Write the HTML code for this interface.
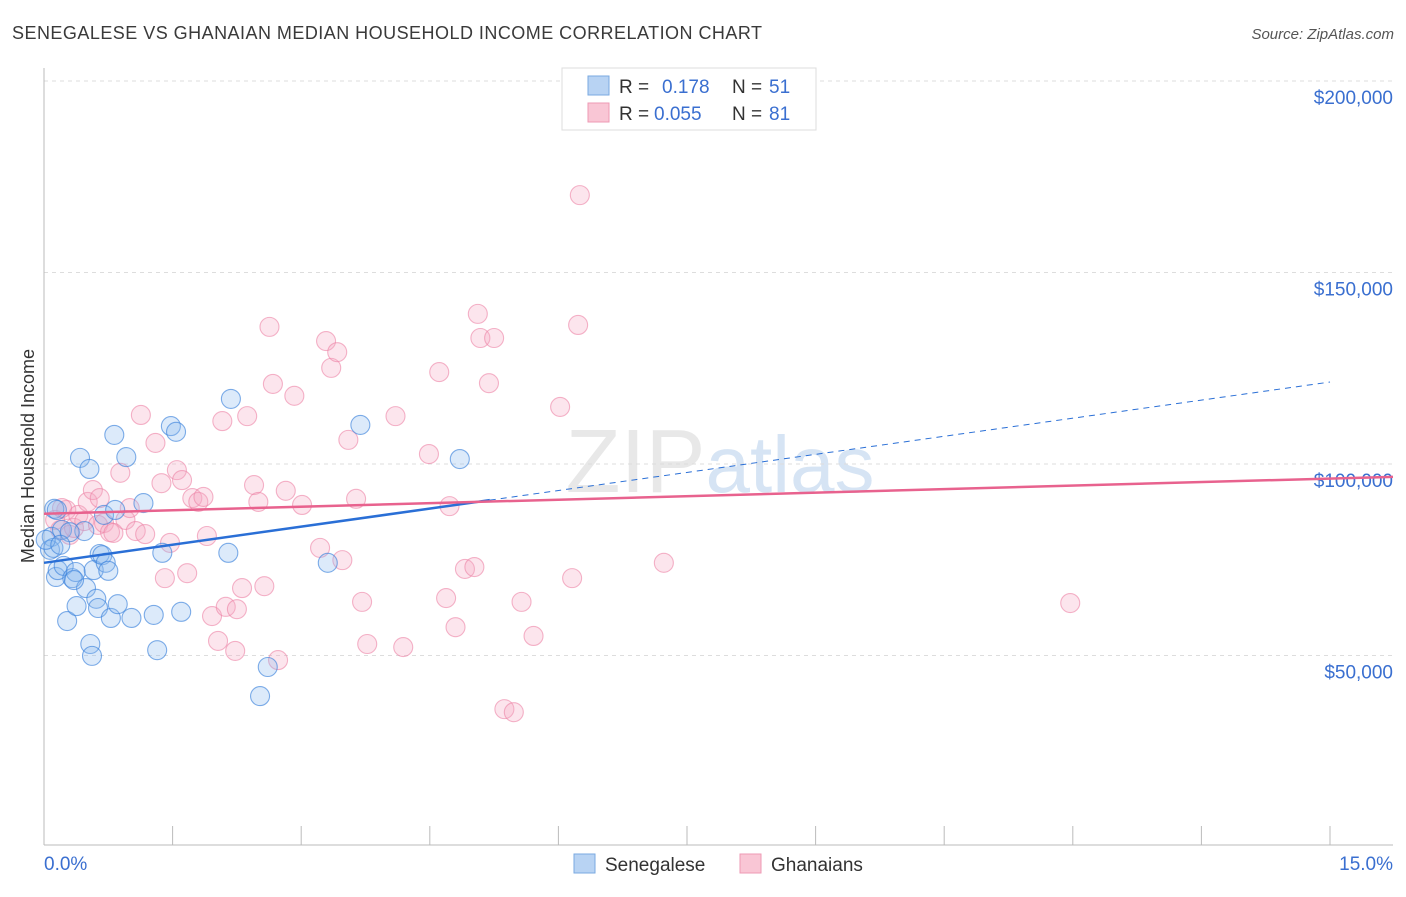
<!DOCTYPE html>
<html><head><meta charset="utf-8"><style>
body{margin:0;background:#fff;font-family:"Liberation Sans",sans-serif;}
svg text{font-family:"Liberation Sans",sans-serif;}
</style></head><body>
<svg id="chart" width="1406" height="892" xmlns="http://www.w3.org/2000/svg">
<text x="12" y="39" font-size="18" fill="#3a3a3a" textLength="750">SENEGALESE VS GHANAIAN MEDIAN HOUSEHOLD INCOME CORRELATION CHART</text>
<text x="1394" y="39" font-size="15" fill="#555" font-style="italic" text-anchor="end">Source: ZipAtlas.com</text>
<text transform="translate(34,456) rotate(-90)" font-size="18" fill="#333" text-anchor="middle">Median Household Income</text>
<text x="720" y="492" font-size="90" fill="#e8e8e8" text-anchor="middle" font-family="Liberation Serif">ZIP<tspan fill="#d6e4f4" font-family="Liberation Sans" font-size="80">atlas</tspan></text>
<g id="grid"></g><g id="axes"></g><g id="pts"></g><g id="trend"></g>
<g>
<rect x="562" y="68" width="254" height="62" fill="#fff" stroke="#ddd"/>
<rect x="588" y="76" width="21" height="19" fill="#b8d3f3" stroke="#7aa9e0"/>
<rect x="588" y="103" width="21" height="19" fill="#f9c6d5" stroke="#ee9ab4"/>
<text x="619" y="93" font-size="19" fill="#333">R = </text><text x="662" y="93" font-size="19" fill="#3a6fd0">0.178</text>
<text x="732" y="93" font-size="19" fill="#333">N = </text><text x="769" y="93" font-size="19" fill="#3a6fd0">51</text>
<text x="619" y="120" font-size="19" fill="#333">R = </text><text x="654" y="120" font-size="19" fill="#3a6fd0">0.055</text>
<text x="732" y="120" font-size="19" fill="#333">N = </text><text x="769" y="120" font-size="19" fill="#3a6fd0">81</text>
</g>
<g>
<rect x="574" y="854" width="21" height="19" fill="#b8d3f3" stroke="#7aa9e0"/>
<text x="605" y="871" font-size="19" fill="#333">Senegalese</text>
<rect x="740" y="854" width="21" height="19" fill="#f9c6d5" stroke="#ee9ab4"/>
<text x="771" y="871" font-size="19" fill="#333">Ghanaians</text>
</g>
</svg>
<script>
const yTicks=[50000,100000,150000,200000];
const yTickLabels=["$50,000","$100,000","$150,000","$200,000"];
const xTickCount=10;
const blueX=[0.12,0.09,0.07,0.11,0.14,0.16,0.23,0.27,0.33,0.37,0.38,0.42,0.47,0.49,0.53,0.54,0.56,0.58,0.61,0.63,0.65,0.68,0.70,0.72,0.75,0.78,0.82,0.83,0.86,0.96,1.02,1.16,1.28,1.32,1.38,1.48,1.54,1.60,2.15,2.18,2.52,2.61,3.31,3.69,4.85,0.21,0.30,0.15,0.02,0.35,0.19];
const blueY=[88.3,81.0,77.6,78.1,70.5,72.3,73.4,59.0,70.2,71.8,62.9,101.6,82.5,67.6,98.7,53.0,49.9,72.3,64.8,62.4,76.5,76.2,86.7,74.2,72.1,59.8,107.6,88.0,63.4,101.8,59.8,89.8,60.6,51.4,76.8,109.9,108.4,61.4,76.8,117.0,39.4,47.0,74.2,110.2,101.3,82.8,82.2,88.0,80.2,69.7,78.9];
const pinkX=[.13,.19,.26,.30,.35,.40,.47,.51,.57,.63,.70,.77,.81,.89,.95,1.00,1.07,1.13,1.18,1.30,1.37,1.47,1.41,1.55,1.61,1.67,1.73,1.80,1.86,1.90,1.96,2.03,2.08,2.12,2.23,2.25,2.31,2.37,2.45,2.50,2.57,2.63,2.67,2.73,2.82,2.92,3.01,3.22,3.29,3.35,3.42,3.48,3.55,3.64,3.71,3.77,4.10,4.19,4.49,4.61,4.69,4.80,4.73,4.91,5.02,5.06,5.09,5.19,5.25,5.37,5.48,5.57,5.71,6.02,6.16,6.23,6.25,7.23,11.97,.21,.65];
const pinkY=[85.4,82.8,88.0,81.5,83.3,86.7,85.1,90.1,93.2,84.1,84.6,82.2,82.0,97.7,85.4,88.5,82.5,112.8,81.7,105.5,95.0,79.4,70.2,98.4,95.8,71.5,91.1,90.1,91.4,81.2,60.3,53.8,111.2,62.7,51.2,62.1,67.6,112.5,94.5,90.1,68.1,135.8,120.9,48.8,93.0,117.8,89.3,78.1,132.1,125.1,129.2,74.9,106.3,90.9,64.0,53.0,112.5,52.2,102.6,124.0,65.0,57.4,89.0,72.6,73.1,139.2,132.9,121.1,132.9,36.0,35.2,64.0,55.1,114.9,70.2,136.3,170.2,74.2,63.7,88.5,91.1];
const blueTrend=[74.2,121.4];
const pinkTrend=[87.0,96.2];
const blueSolidEnd=5.2;
const NS="http://www.w3.org/2000/svg";
const xs=v=>44+v/15*1286;
const ys=v=>464-(v-100000)*191.5/50000;
function mk(t,a,p){const e=document.createElementNS(NS,t);for(const k in a)e.setAttribute(k,a[k]);document.getElementById(p).appendChild(e);return e;}
yTicks.forEach((t,i)=>{
 const l=mk('line',{x1:44,x2:1393,y1:ys(t),y2:ys(t),stroke:'#ddd','stroke-dasharray':'4,4'},'grid');
 
 
 const tx=mk('text',{x:1393,y:ys(t)+23,'font-size':19,fill:'#3a6fd0','text-anchor':'end'},'grid');
 tx.textContent=yTickLabels[i];
 
 
});
mk('line',{x1:44,x2:44,y1:68,y2:845,stroke:'#bbb'},'axes');
mk('line',{x1:44,x2:1393,y1:845,y2:845,stroke:'#bbb'},'axes');
for(let i=1;i<=xTickCount;i++){const t=mk('line',{x1:xs(i*1.5),x2:xs(i*1.5),y1:826,y2:845,stroke:'#bbb'},'axes');
 
 }
let a=mk('text',{x:44,y:870,'font-size':19,fill:'#3a6fd0'},'axes');a.textContent='0.0%';


a=mk('text',{x:1393,y:870,'font-size':19,fill:'#3a6fd0','text-anchor':'end'},'axes');a.textContent='15.0%';


pinkX.forEach((x,i)=>{const c=mk('circle',{cx:xs(x),cy:ys(pinkY[i]*1000),r:9.5,fill:'rgba(246,170,195,0.3)',stroke:'rgba(236,130,165,0.6)','stroke-width':1.1},'pts');
 
 });
blueX.forEach((x,i)=>{const c=mk('circle',{cx:xs(x),cy:ys(blueY[i]*1000),r:9.5,fill:'rgba(140,185,240,0.3)',stroke:'rgba(60,130,220,0.65)','stroke-width':1.1},'pts');
 
 });
const bAt=x=>blueTrend[0]+(blueTrend[1]-blueTrend[0])*x/15;
let l=mk('line',{x1:xs(0),y1:ys(bAt(0)*1000),x2:xs(blueSolidEnd),y2:ys(bAt(blueSolidEnd)*1000),stroke:'#2a6fd6','stroke-width':2.5},'trend');


l=mk('line',{x1:xs(blueSolidEnd),y1:ys(bAt(blueSolidEnd)*1000),x2:xs(15),y2:ys(bAt(15)*1000),stroke:'#2a6fd6','stroke-width':1,'stroke-dasharray':'6,5'},'trend');


const pAt=x=>pinkTrend[0]+(pinkTrend[1]-pinkTrend[0])*x/15;
l=mk('line',{x1:xs(0),y1:ys(pAt(0)*1000),x2:1393,y2:ys(pAt(15.73)*1000),stroke:'#e8628e','stroke-width':2.5},'trend');


</script>
</body></html>
